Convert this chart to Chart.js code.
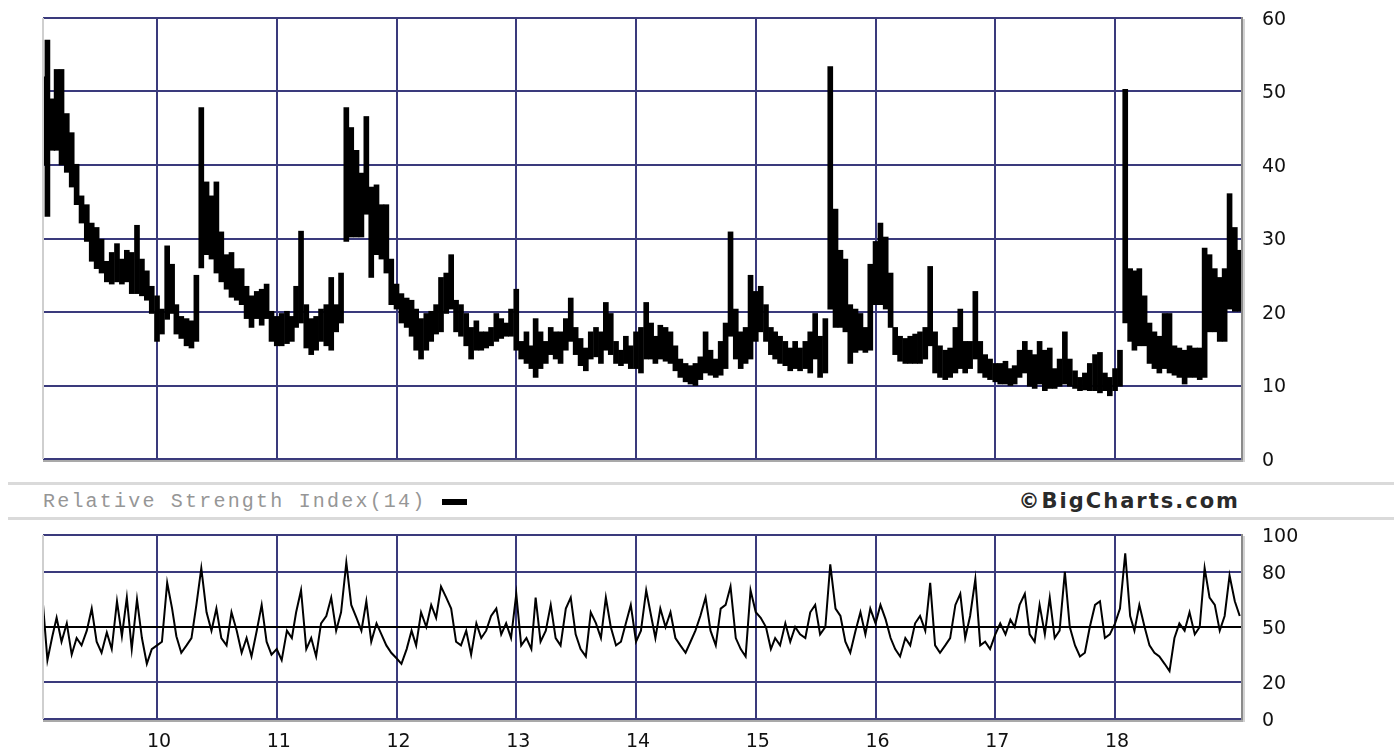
<!DOCTYPE html>
<html>
<head>
<meta charset="utf-8">
<script src="https://cdn.jsdelivr.net/npm/chart.js@4.4.0/dist/chart.umd.min.js"></script>
<style>
html,body{margin:0;padding:0;background:#fff;width:1400px;height:754px;overflow:hidden;}
#wrap{position:relative;width:1400px;height:754px;}
#c1{position:absolute;left:0;top:0;}
#c2{position:absolute;left:0;top:520px;}
.sep{position:absolute;left:8px;width:1386px;height:3px;background:#dadada;}
#rsiLabel{position:absolute;left:43px;top:490px;font-family:"Liberation Mono","DejaVu Sans Mono",monospace;font-size:20px;letter-spacing:2.2px;color:#969696;line-height:24px;white-space:nowrap;}
#rsiKey{position:absolute;left:442px;top:499px;width:25px;height:6px;background:#000;}
#brand{position:absolute;right:160px;top:488px;font-family:"DejaVu Sans",sans-serif;font-weight:bold;font-size:21px;letter-spacing:2px;color:#2a2a2a;line-height:26px;white-space:nowrap;}
</style>
</head>
<body>
<div id="wrap">
  <canvas id="c1" width="1400" height="470"></canvas>
  <div class="sep" style="top:482px"></div>
  <div id="rsiLabel">Relative Strength Index(14)</div>
  <div id="rsiKey"></div>
  <div id="brand">©BigCharts.com</div>
  <div class="sep" style="top:517px"></div>
  <canvas id="c2" width="1400" height="234"></canvas>
</div>
<script>
// ---------- DATA ----------
const years = [2009, 2010, 2011, 2012, 2013, 2014, 2015, 2016, 2017, 2018, 2019];
const halfMonths = ['01-01','01-16','02-01','02-16','03-01','03-16','04-01','04-16','05-01','05-16','06-01','06-16',
                    '07-01','07-16','08-01','08-16','09-01','09-16','10-01','10-16','11-01','11-16','12-01','12-16'];
const firstPeriod = '2009-01-16';
const lastPeriod  = '2019-01-16';
const yearTicks = [2010, 2011, 2012, 2013, 2014, 2015, 2016, 2017, 2018];
const priceTicks = [0, 10, 20, 30, 40, 50, 60];
const rsiTicks = [0, 20, 50, 80, 100];

// VIX half-monthly high / low
const vixHigh = [
  52,57,49,53,53,47,44.4,40.1,35.8,34.6,
  32.1,31.5,29.9,26.9,28.1,29.3,27.2,28.4,28.1,31.8,
  27.2,25.6,23.5,22.2,20.4,29,26.5,21,19.4,19.1,
  18.8,25,47.8,37.7,35.8,37.7,30.9,27.8,28.1,25.9,
  25.9,23.5,22.2,22.8,23.1,23.8,20.1,19.4,19.8,20.1,
  19.4,23.5,31,21,19.1,19.4,20.4,21,24.7,21,
  25.3,47.8,45.1,42,38.9,46.6,37,37.3,34.6,34.6,
  27.2,23.8,22.5,21.9,21.6,20.4,19.1,19.8,20.1,21,
  24.7,25.3,27.8,21.6,21,19.8,17.9,18.8,17.3,17.3,
  17.9,19.8,19.1,18.5,20.4,23.1,16,17.3,15.4,19.1,
  17.3,16,17.9,17.3,17.3,19.1,21.9,17.9,16.4,15.1,
  17.3,17.9,17.3,21.3,19.8,16,14.8,16.7,15.4,17.3,
  17.9,21.3,18.5,16.7,18.2,17.9,17.3,15.4,13.6,13,
  12.7,13,13.9,17.3,14.8,13.6,16,18.5,30.9,20.4,
  17.3,17.9,25,22.8,23.5,21,17.9,17.3,16.7,16,
  15.1,16,15.1,16,17.3,19.8,16.7,19.1,53.4,34,
  28.4,27.2,21,20.4,19.8,17.9,26.5,29.6,32.1,30.2,
  25.3,17.9,16.7,16.4,16.7,17,17.3,17.9,26.2,17.3,
  15.4,14.8,15.1,17.9,20.4,16,16,22.8,16,14.2,
  13.6,13,13,13.3,12.3,12.7,14.8,16,14.8,14.2,
  16,14.8,15.1,12.3,13.6,17.3,13.6,12,11.1,11.7,
  13,14.2,14.5,11.7,11.1,12.3,14.8,50.3,25.9,25.6,
  25.9,22.2,18.5,17.3,16.7,19.8,19.8,15.4,15.1,14.8,
  15.4,15.1,15.1,28.7,27.8,25.9,24.7,25.9,36.1,31.5,
  28.4
];
const vixLow = [
  40,33,42,42,40,39,37,34.6,32.1,29.6,
  26.9,25.9,25.3,24.1,23.8,24.1,23.8,24.1,22.5,22.5,
  22.2,21.6,19.8,16,17,19,19.8,17,16.4,15.4,
  15.1,16,26,27.8,27.2,25.3,24.1,23.1,22,21.6,
  21,19.1,17.9,19.1,18.2,19.1,16,15.4,15.4,15.7,
  16,17.9,18.5,15.1,14.2,14.8,16,15.4,14.8,17.3,
  18.5,29.6,30.2,30.2,30.2,33.3,24.7,27.8,27.2,25.3,
  21,20.4,18.5,17.9,16.7,14.8,13.6,14.8,16,17,
  17.3,19.8,20.4,17.3,16.7,15.4,13.6,14.8,14.8,15.1,
  15.4,16,16.4,16.7,16.7,14.8,13.6,13,12.3,11.1,
  12.3,13,14.2,13.6,13,14.8,16,14.2,12.7,12,
  13.6,13.9,13,14.8,14.2,13,12.7,13,12.3,12.3,
  11.7,13.6,13.6,13,13.6,13.3,13,12,11.1,10.5,
  10.2,10,10.8,11.7,11.4,11.1,11.4,12.3,16.7,13.6,
  12.3,13,13.6,16,17.3,16,14.2,13.6,13,12.7,
  12,12.3,12,12.3,11.7,13.6,11.1,11.7,20.4,17.9,
  17.9,17.3,13,14.5,14.8,14.5,14.8,21,21,20.4,
  17.9,14.2,13.3,13,13,13,13,13.6,15.4,11.7,
  11.1,10.8,11.1,11.7,12.3,11.7,12.3,13.6,11.7,11.1,
  10.8,10.5,10.2,10.2,10,10.2,11.1,11.7,9.9,9.6,
  10.2,9.3,9.6,9.6,9.9,10.2,9.9,9.6,9.3,9.4,
  9.3,9.3,9,9.3,8.6,9.3,9.9,18.5,16,14.8,
  15.4,15.4,13,12.3,11.7,12.3,11.7,11.4,11.1,10.2,
  11.1,11.1,10.8,11.1,17.3,17.3,16,16,20.4,20.1,
  20.1
];
// RSI(14)
const rsi = [
  68,32,45,55,42,52,35,44,40,48,
  60,42,36,47,38,64,45,66,38,65,
  44,30,38,40,42,74,60,45,36,40,
  44,62,82,58,48,60,44,40,58,48,
  36,44,34,48,62,42,35,38,32,48,
  44,58,70,38,44,34,52,56,66,48,
  58,85,62,55,48,64,42,52,46,40,
  36,33,30,38,48,40,58,50,62,55,
  72,66,60,42,40,48,35,52,44,48,
  56,60,46,52,44,68,40,44,38,66,
  42,48,62,44,40,60,66,46,38,34,
  58,52,44,66,50,40,42,52,62,42,
  48,70,56,44,60,50,58,44,40,36,
  42,48,56,66,48,40,60,62,72,44,
  38,34,70,58,55,50,38,44,40,52,
  42,50,46,44,58,62,46,50,84,60,
  56,42,36,48,58,46,60,52,62,54,
  44,38,34,44,40,52,56,48,74,40,
  36,40,44,62,68,44,56,76,40,42,
  38,46,52,46,54,50,62,68,46,42,
  62,46,66,44,48,80,50,40,34,36,
  50,62,64,44,46,52,60,90,56,48,
  62,50,40,36,34,30,26,44,52,48,
  58,46,50,82,66,62,48,56,78,64,
  56
];

// ---------- BUILD ----------
const periods = [];
for (const y of years) for (const d of halfMonths) {
  const p = y + '-' + d;
  if (p >= firstPeriod && p <= lastPeriod) periods.push(p);
}
function toYear(s) {
  const [y, m, d] = s.split('-').map(Number);
  const start = Date.UTC(y, 0, 1), end = Date.UTC(y + 1, 0, 1);
  return y + (Date.UTC(y, m - 1, d) - start) / (end - start);
}
const xs = periods.map(toYear);

const X_MIN = 2009.048, X_MAX = 2019.06;
const NAVY = '#3a3a7c';
const FONT = {family: '"DejaVu Sans", Verdana, sans-serif', size: 19, lineHeight: 1};

const frame = {
  id: 'frame',
  afterDatasetsDraw(chart) {
    const {ctx, chartArea: a} = chart;
    const line = (x1, y1, x2, y2, c, w) => {
      ctx.beginPath(); ctx.strokeStyle = c; ctx.lineWidth = w;
      ctx.moveTo(x1, y1); ctx.lineTo(x2, y2); ctx.stroke();
    };
    ctx.save();
    line(a.left, a.top, a.left, a.bottom, '#cfcfcf', 2);
    line(a.left, a.bottom + 2, a.right + 2, a.bottom + 2, '#a9a9a9', 2);
    line(a.right, a.top - 1, a.right, a.bottom + 1, '#8a8a8a', 2);
    line(a.right + 2, a.top + 1, a.right + 2, a.bottom + 3, '#d2d2d2', 2);
    ctx.restore();
  }
};

function xScale(showLabels, height) {
  return {
    type: 'linear', min: X_MIN, max: X_MAX, offset: false,
    afterBuildTicks: s => { s.ticks = yearTicks.map(v => ({value: v})); },
    ticks: {display: showLabels, autoSkip: false, maxRotation: 0, padding: 14, labelOffset: 2, color: '#111', font: FONT,
            callback: v => String(v).slice(2)},
    grid: {color: NAVY, lineWidth: 2, drawTicks: false, offset: false},
    border: {display: false},
    afterFit: s => { s.height = height; }
  };
}
function yScale(min, max, ticks, gridColor) {
  return {
    position: 'right', min, max,
    afterBuildTicks: s => { s.ticks = ticks.map(v => ({value: v})); },
    ticks: {padding: 0, labelOffset: 2, color: '#111', font: FONT, autoSkip: false},
    grid: {color: gridColor, lineWidth: 2, drawTicks: true, tickLength: 20, tickColor: 'rgba(0,0,0,0)'},
    border: {display: false},
    afterFit: s => { s.width = 158; }
  };
}

new Chart(document.getElementById('c1'), {
  type: 'bar',
  data: {
    datasets: [{
      data: xs.map((x, i) => ({x, y: [vixLow[i], vixHigh[i]]})),
      backgroundColor: '#000', borderWidth: 0, barThickness: 5, grouped: false
    }]
  },
  options: {
    responsive: false, animation: false, events: [],
    layout: {padding: {left: 43, top: 18, right: 0, bottom: 0}},
    plugins: {legend: {display: false}, tooltip: {enabled: false}},
    scales: {
      x: xScale(false, 11),
      y: yScale(0, 60, priceTicks, NAVY)
    }
  },
  plugins: [frame]
});

new Chart(document.getElementById('c2'), {
  type: 'line',
  data: {
    datasets: [{
      data: xs.map((x, i) => ({x, y: rsi[i]})),
      borderColor: '#000', borderWidth: 2, pointRadius: 0, tension: 0, fill: false
    }]
  },
  options: {
    responsive: false, animation: false, events: [],
    layout: {padding: {left: 43, top: 15, right: 0, bottom: 0}},
    plugins: {legend: {display: false}, tooltip: {enabled: false}},
    scales: {
      x: xScale(true, 35),
      y: yScale(0, 100, rsiTicks, ctx => (ctx.tick && ctx.tick.value === 50) ? '#000' : NAVY)
    }
  },
  plugins: [frame]
});
</script>
</body>
</html>
